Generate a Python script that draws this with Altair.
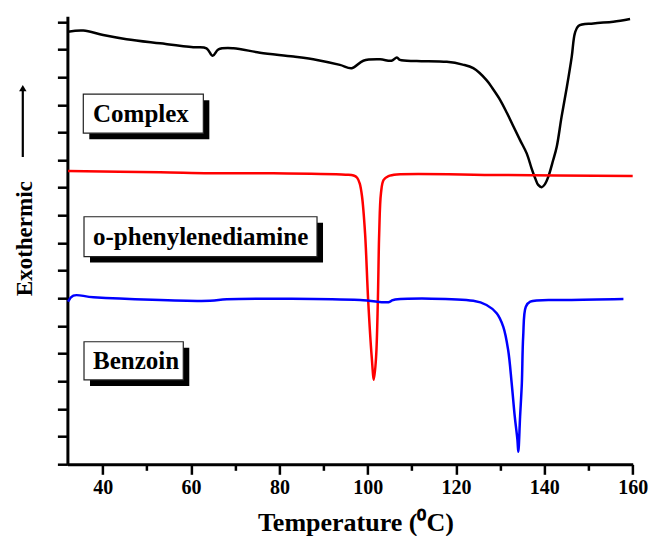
import altair as alt
import pandas as pd

# ---- data (temperature in deg C, signal in arbitrary offset units)
complex_t = [32.15, 35.6, 40.1, 45.4, 53.0, 60.5, 63.5, 64.9, 66.2, 69.6, 75.6, 83.2, 88.5, 93.7,
             96.4, 99.0, 102.8, 105.4, 106.6, 107.3, 111.1, 117.9, 121.5, 123.9, 126.9, 128.4,
             130.0, 131.5, 133.0, 134.5, 136.0, 137.1, 137.9, 138.6, 139.4, 140.1, 140.9, 142.0,
             142.8, 143.9, 145.1, 146.2, 146.9, 147.7, 151.1, 155.6, 159.4]
complex_v = [15.64, 15.68, 15.52, 15.37, 15.22, 15.08, 15.04, 14.77, 15.00, 15.04, 14.88, 14.74,
             14.62, 14.44, 14.32, 14.59, 14.64, 14.59, 14.71, 14.62, 14.58, 14.55, 14.45, 14.32,
             13.89, 13.56, 13.17, 12.71, 12.21, 11.72, 11.24, 10.70, 10.35, 10.10, 10.02, 10.12,
             10.40, 11.00, 11.48, 12.57, 13.65, 14.74, 15.58, 15.85, 15.94, 16.00, 16.10]

opd_t = [32.15, 53.0, 64.3, 78.6, 95.0, 96.8, 97.6, 98.2, 98.7, 99.4, 100.1, 100.9, 101.4,
         101.9, 102.3, 102.6, 103.0, 103.6, 104.7, 106.6, 130.0, 160.0]
opd_v = [10.60, 10.56, 10.52, 10.52, 10.47, 10.44, 10.36, 10.15, 9.70, 8.35, 5.94, 3.89, 3.06,
         3.89, 5.94, 8.35, 9.80, 10.28, 10.42, 10.48, 10.46, 10.42]

benz_t = [32.15, 33.35, 37.9, 64.3, 68.1, 98.3, 104.7, 105.8, 123.9, 126.9, 129.2, 130.7,
          131.8, 132.6, 133.3, 133.9, 134.1, 134.5, 134.9, 135.2, 135.8, 136.8, 145.1, 157.9]
benz_v = [5.88, 6.10, 6.04, 5.91, 5.97, 5.94, 5.86, 5.94, 5.91, 5.76, 5.46, 4.97, 4.13, 2.93,
          1.72, 0.88, 0.45, 1.72, 2.93, 4.61, 5.70, 5.88, 5.94, 5.98]

labels = ["Complex", "o-phenylenediamine", "Benzoin"]
x_ticks = [40, 50, 60, 70, 80, 90, 100, 110, 120, 130, 140, 150, 160]
y_ticks = list(range(17))

# ---- annotation placement (data units)
box_t1 = [35.6, 35.76, 35.76]
box_t2 = [62.78, 88.52, 58.24]
box_v1 = [11.97, 7.51, 3.05]
box_v2 = [13.38, 8.95, 4.43]
label_t = [37.8, 37.8, 37.8]
label_v = [12.67, 8.23, 3.74]

FONT = "Liberation Serif"
xscale = alt.Scale(domain=[32, 160], nice=False, zero=False)
yscale = alt.Scale(domain=[0, 16.2], nice=False, zero=False)

xaxis = alt.Axis(
    title="Temperature (\u2070C)", values=x_ticks, grid=False,
    labelExpr="datum.value % 20 === 0 ? datum.label : ''",
    labelFont=FONT, labelFontWeight="bold", labelFontSize=20, labelColor="black",
    labelPadding=3, labelFlush=False, labelOverlap=False,
    tickSize={"condition": {"test": "datum.value % 20 === 0", "value": 10}, "value": 6},
    tickWidth=2.5, tickColor="black", domainWidth=3, domainColor="black",
    titleFont=FONT, titleFontWeight="bold", titleFontSize=26, titleColor="black",
    titleX=288, titleY=66, titleAlign="center", titleBaseline="alphabetic",
)
yaxis = alt.Axis(
    title="Exothermic", values=y_ticks, labels=False, grid=False,
    tickSize=10, tickWidth=2.5, tickColor="black", domainWidth=3, domainColor="black",
    titleFont=FONT, titleFontWeight="bold", titleFontSize=23, titleColor="black",
    titleAngle=270, titleX=-36, titleY=222, titleAlign="center", titleBaseline="alphabetic",
)

X = alt.X("t:Q", scale=xscale, axis=xaxis)
Y = alt.Y("v:Q", scale=yscale, axis=yaxis)


def curve(t, v, color):
    return alt.Chart(pd.DataFrame({"t": t, "v": v})).mark_line(
        color=color, strokeWidth=2.5, interpolate="catmull-rom"
    ).encode(x=X, y=Y)


boxes = pd.DataFrame({"t": box_t1, "t2": box_t2, "v": box_v1, "v2": box_v2})
texts = pd.DataFrame({"t": label_t, "v": label_v, "label": labels})

shadow = alt.Chart(boxes).mark_rect(
    color="black", xOffset=6, x2Offset=6, yOffset=6, y2Offset=6
).encode(x=X, x2="t2:Q", y=Y, y2="v2:Q")
box = alt.Chart(boxes).mark_rect(
    fill="white", stroke="#222222", strokeWidth=1.2
).encode(x=X, x2="t2:Q", y=Y, y2="v2:Q")
text = alt.Chart(texts).mark_text(
    align="left", baseline="middle", font=FONT, fontWeight="bold", fontSize=25, color="black"
).encode(x=X, y=Y, text="label:N")

arrow_df = pd.DataFrame({"t": [21.9], "v": [11.11], "v2": [13.55]})
arrow_line = alt.Chart(arrow_df).mark_rule(color="black", strokeWidth=2.2).encode(
    x=X, y=Y, y2="v2:Q"
)
arrow_head = alt.Chart(pd.DataFrame({"t": [21.9], "v": [13.6]})).mark_point(
    shape="triangle-up", filled=True, size=55, color="black", opacity=1
).encode(x=X, y=Y)

chart = alt.layer(
    shadow, box, text, arrow_line, arrow_head,
    curve(complex_t, complex_v, "black"),
    curve(opd_t, opd_v, "#ff0000"),
    curve(benz_t, benz_v, "#0000ff"),
).properties(
    width=565.3, height=448.1,
    autosize=alt.AutoSizeParams(type="none"),
    padding={"left": 67.4, "top": 16.2, "right": 16.3, "bottom": 71.7},
    background="white",
).configure_view(stroke=None)

chart.save("out.html", embed_options={"renderer": "svg", "actions": False})
